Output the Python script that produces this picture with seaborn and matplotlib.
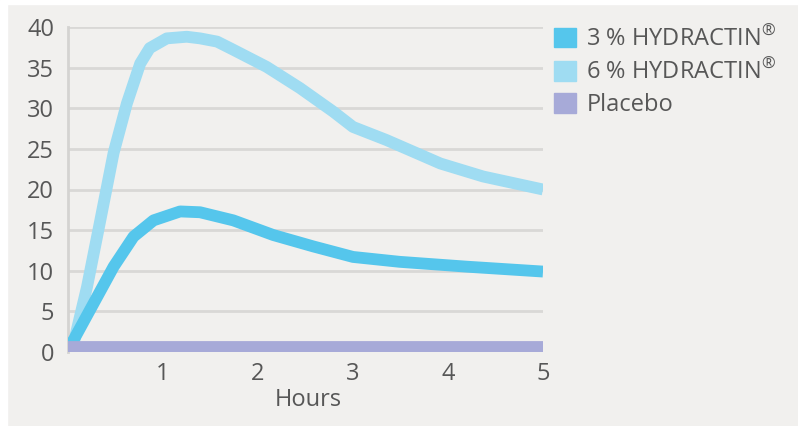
import matplotlib
matplotlib.use("Agg")
import matplotlib.pyplot as plt
import matplotlib.patches as mpatches
import seaborn as sns
import pandas as pd

# Data
hours_6 = [0, 0.06, 0.20, 0.34, 0.48, 0.62, 0.76, 0.86, 1.04, 1.25, 1.39, 1.57, 1.74,
           2.09, 2.44, 2.79, 3.0, 3.35, 3.92, 4.37, 5.0]
hydr_6 = [0.5, 1.1, 8.0, 16.2, 24.5, 30.6, 35.5, 37.4, 38.6, 38.8, 38.6, 38.2, 37.2,
          35.1, 32.5, 29.6, 27.7, 26.1, 23.2, 21.6, 20.0]

hours_3 = [0, 0.06, 0.27, 0.48, 0.69, 0.90, 1.18, 1.39, 1.74, 2.16, 2.58, 3.0, 3.49, 4.2, 5.0]
hydr_3 = [0.5, 1.5, 6.0, 10.5, 14.2, 16.2, 17.3, 17.2, 16.2, 14.4, 13.0, 11.7, 11.1, 10.5, 9.9]

hours_p = [0, 5]
placebo = [0.6, 0.6]

series_names = ["3 % HYDRACTIN$^{®}$", "6 % HYDRACTIN$^{®}$", "Placebo"]
colors = ["#55c6ec", "#9fdcf2", "#a7aad8"]
x_ticks = [1, 2, 3, 4, 5]
y_ticks = [0, 5, 10, 15, 20, 25, 30, 35, 40]

df = pd.concat([
    pd.DataFrame({"Hours": hours_3, "value": hydr_3, "series": series_names[0]}),
    pd.DataFrame({"Hours": hours_6, "value": hydr_6, "series": series_names[1]}),
    pd.DataFrame({"Hours": hours_p, "value": placebo, "series": series_names[2]}),
])

sns.set_theme(style="white")
plt.rcParams["font.family"] = ["Open Sans", "DejaVu Sans"]
plt.rcParams["mathtext.fontset"] = "custom"
plt.rcParams["mathtext.rm"] = "Open Sans"
plt.rcParams["mathtext.it"] = "Open Sans"
plt.rcParams["mathtext.default"] = "regular"

bg = "#f1f0ee"
txt = "#575757"
fig = plt.figure(figsize=(7.98, 4.26), dpi=100, facecolor=bg)
ax = fig.add_axes([68 / 798, 1 - 352 / 426, (543 - 68) / 798, (352 - 27) / 426])
ax.set_facecolor(bg)

# white strips at left/top edges
fig.patches.append(mpatches.Rectangle((0, 0), 7 / 798, 1, transform=fig.transFigure,
                                      color="white", zorder=-1))
fig.patches.append(mpatches.Rectangle((0, 1 - 4 / 426), 1, 4 / 426, transform=fig.transFigure,
                                      color="white", zorder=-1))

for y in y_ticks[1:]:
    ax.axhline(y, color="#d9d8d6", lw=2, zorder=0)

order = [series_names[2], series_names[0], series_names[1]]
pal = dict(zip(series_names, colors))
sns.lineplot(data=df, x="Hours", y="value", hue="series", hue_order=order,
             palette=pal, ax=ax, lw=8.5, legend=False, sort=False)
for line in ax.lines[-3:]:
    line.set_solid_capstyle("butt")
    line.set_solid_joinstyle("round")
    line.set_zorder(3)
ax.lines[-1].set_zorder(2)   # 6 %
ax.lines[-2].set_zorder(3)   # 3 %
ax.lines[-3].set_zorder(4)   # placebo

ax.set_xlim(0, 5)
ax.set_ylim(0, 40)
ax.set_xticks(x_ticks)
ax.set_yticks(y_ticks)
ax.set_xticklabels([str(t) for t in x_ticks])
ax.set_yticklabels([str(t) for t in y_ticks])
ax.tick_params(axis="x", direction="in", length=14, width=2, color="#c9c8c6",
               labelsize=17, labelcolor=txt, pad=7.5)
ax.tick_params(axis="y", length=0, labelsize=17, labelcolor=txt, pad=10)
for side in ["top", "right", "bottom"]:
    ax.spines[side].set_visible(False)
ax.spines["left"].set_color("#d4d3d1")
ax.spines["left"].set_linewidth(2)
ax.set_ylabel("")
ax.set_xlabel("Hours", fontsize=17, color=txt)
ax.xaxis.label.set_va("center")
ax.xaxis.set_label_coords((308 - 68) / 475, (352 - 400) / 325)

handles = [mpatches.Patch(color=c, label=n) for n, c in zip(series_names, colors)]
fig.legend(handles=handles, loc="upper left", bbox_to_anchor=(545 / 798, 1 - 17 / 426),
           frameon=False, fontsize=17, labelcolor=txt, handlelength=0.9,
           handleheight=0.9, handletextpad=0.45, labelspacing=0.35, borderaxespad=0)

fig.savefig("out.png", dpi=100, facecolor=bg)
